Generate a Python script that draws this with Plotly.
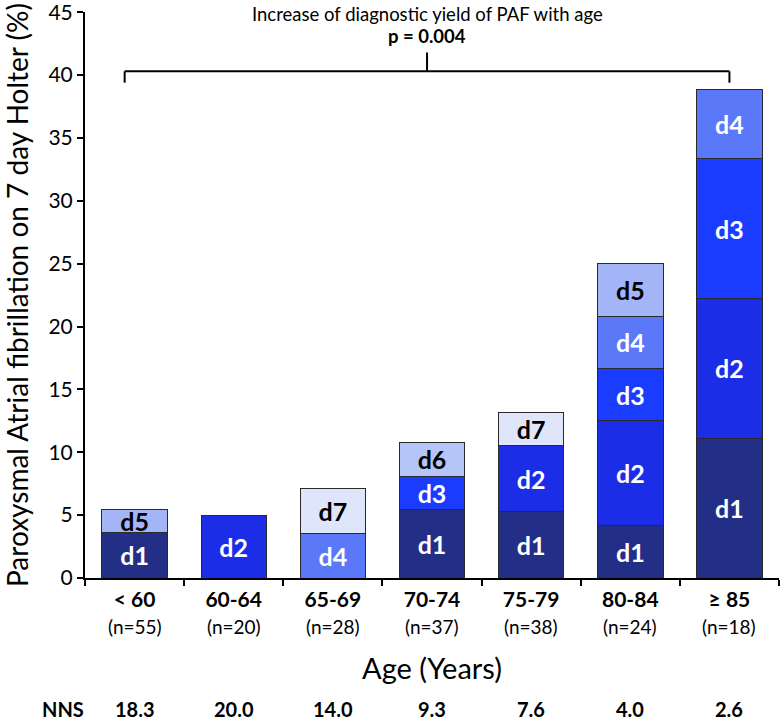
import plotly.graph_objects as go

categories = ["< 60", "60-64", "65-69", "70-74", "75-79", "80-84", "≥ 85"]
n_labels = ["(n=55)", "(n=20)", "(n=28)", "(n=37)", "(n=38)", "(n=24)", "(n=18)"]
nns_values = ["18.3", "20.0", "14.0", "9.3", "7.6", "4.0", "2.6"]

days = ["d1", "d2", "d3", "d4", "d5", "d6", "d7"]
d1 = [3.64, None, None, 5.41, 5.26, 4.17, 11.11]
d2 = [None, 5.0, None, None, 5.26, 8.33, 11.11]
d3 = [None, None, None, 2.70, None, 4.17, 11.11]
d4 = [None, None, 3.57, None, None, 4.17, 5.56]
d5 = [1.82, None, None, None, None, 4.17, None]
d6 = [None, None, None, 2.70, None, None, None]
d7 = [None, None, 3.57, None, 2.63, None, None]
series = [d1, d2, d3, d4, d5, d6, d7]

colors = ["#232f87", "#1c2de8", "#1a3cff", "#5a78f8", "#a3b5f7", "#b5c5f7", "#dfe5fa"]
text_colors = ["white", "white", "white", "white", "black", "black", "black"]

FONT = "Lato, Open Sans, sans-serif"

fig = go.Figure()
for day, vals, col, tc in zip(days, series, colors, text_colors):
    fig.add_trace(go.Bar(
        x=categories, y=vals, name=day,
        marker=dict(color=col, line=dict(color="#2a2a2a", width=1)),
        text=[day if v is not None else "" for v in vals],
        textposition="inside", insidetextanchor="middle", textangle=0,
        textfont=dict(color=tc, size=25, family=FONT, weight="bold"),
        showlegend=False,
    ))

fig.update_layout(
    barmode="stack", bargap=0.34,
    width=783, height=722,
    margin=dict(l=85, r=4, t=12, b=144),
    plot_bgcolor="white", paper_bgcolor="white",
    font=dict(family=FONT, color="black"),
    uniformtext=dict(minsize=25, mode="show"),
)

fig.update_yaxes(
    range=[0, 45.02], tickvals=[0, 5, 10, 15, 20, 25, 30, 35, 40, 45],
    showgrid=False, zeroline=False, automargin=False, ticklabeloverflow="allow",
    showline=True, linecolor="black", linewidth=2,
    ticks="outside", ticklen=6, tickwidth=2, tickcolor="black",
    tickfont=dict(size=21, family=FONT),
    title=dict(text="Paroxysmal Atrial fibrillation on 7 day Holter (%)",
               font=dict(size=28, family=FONT), standoff=16),
)
fig.update_xaxes(
    type="category", showgrid=False, showline=True, linecolor="black", linewidth=2,
    automargin=False,
    ticks="outside", ticklen=6, tickwidth=2, tickcolor="black", tickson="boundaries",
    tickfont=dict(size=21, family=FONT, weight="bold"),
    ticklabelstandoff=2,
)

ann = []
for i, (nl, nv) in enumerate(zip(n_labels, nns_values)):
    ann.append(dict(x=i, y=-0.085, xref="x", yref="paper", text=nl, showarrow=False,
                    font=dict(size=19, family=FONT), yanchor="middle"))
    ann.append(dict(x=i, y=-0.231, xref="x", yref="paper", text="<b>" + nv + "</b>", showarrow=False,
                    font=dict(size=20, family=FONT), yanchor="middle"))
ann.append(dict(x=-0.065, y=-0.231, xref="paper", yref="paper", text="<b>NNS</b>", showarrow=False,
                font=dict(size=20, family=FONT), yanchor="middle"))
ann.append(dict(x=0.5, y=-0.159, xref="paper", yref="paper", text="Age (Years)", showarrow=False,
                font=dict(size=29, family=FONT), yanchor="middle"))
ann.append(dict(x=2.95, y=0.996, xref="x", yref="paper", text="Increase of diagnostic yield of PAF with age",
                showarrow=False, font=dict(size=18.5, family=FONT), yanchor="middle"))
ann.append(dict(x=2.95, y=0.958, xref="x", yref="paper", text="<b>p = 0.004</b>",
                showarrow=False, font=dict(size=18.5, family=FONT), yanchor="middle"))
fig.update_layout(annotations=ann)

br_y, br_end, br_top = 40.3, 39.4, 41.8
line = dict(color="black", width=2)
fig.add_shape(type="line", x0=-0.1, x1=6.0, y0=br_y, y1=br_y, xref="x", yref="y", line=line)
fig.add_shape(type="line", x0=-0.1, x1=-0.1, y0=br_y, y1=br_end, xref="x", yref="y", line=line)
fig.add_shape(type="line", x0=6.0, x1=6.0, y0=br_y, y1=br_end, xref="x", yref="y", line=line)
fig.add_shape(type="line", x0=2.95, x1=2.95, y0=br_y, y1=br_top, xref="x", yref="y", line=line)

fig.write_html("out.html", config={"displayModeBar": False},
               post_script="document.body.style.margin='0';")
